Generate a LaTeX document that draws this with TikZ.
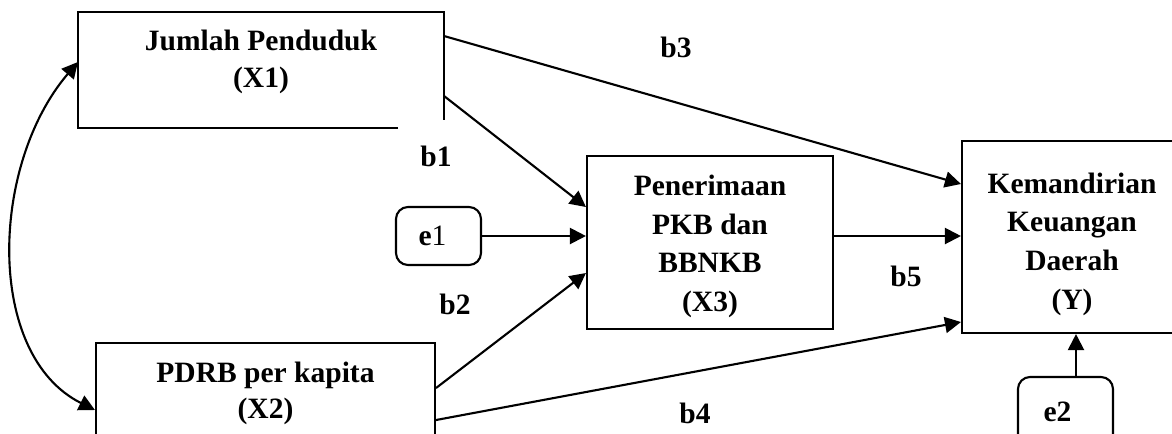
\documentclass[tikz,border=0pt]{standalone}
\usepackage{fontspec}
\setmainfont{Liberation Serif}
\usetikzlibrary{arrows.meta, positioning}
\tikzstyle{block} = [draw, rectangle, inner sep=0pt]
\tikzstyle{errbox} = [draw, rectangle, rounded corners=2.4mm, inner sep=0pt]
\tikzstyle{txt} = [align=center, inner sep=0pt]
\tikzstyle{tall} = [font=\fontsize{16.8}{22}\selectfont\bfseries]

\begin{document}
\begin{tikzpicture}[x=0.2mm,y=-0.2mm,line width=1.2pt,
    >={Triangle[length=3.2mm,width=3.2mm]},
    font=\fontsize{16.8}{20.7}\selectfont\bfseries]
    \useasboundingbox (0,0) rectangle (1172,433);
    % variables
    \node [minimum width=72.8mm, minimum height=22.8mm] (x1) at (261,70) {};
    \node [txt] (x1txt) at ([yshift=1.6mm]x1.center) {Jumlah Penduduk\\(X1)};
    \draw ([xshift=-9.2mm]x1.south east) -- (x1.south west) -- (x1.north west)
        -- (x1.north east) -- ([yshift=1.6mm]x1.south east);
    \node [block, minimum width=67.8mm, minimum height=22.8mm] (x2) at (265.5,400) {};
    \node [txt] (x2txt) at ([yshift=1.3mm]x2.center) {PDRB per kapita\\(X2)};
    \node [block, minimum width=49.2mm, minimum height=34.6mm] (x3) at (710,242.5) {};
    \node [txt, tall] (x3txt) at ([yshift=-0.8mm]x3.center) {Penerimaan\\PKB dan\\BBNKB\\(X3)};
    \node [block, minimum width=44mm, minimum height=38.4mm] (y) at (1072,237) {};
    \node [txt, tall] (ytxt) at ([yshift=-1.4mm]y.center) {Kemandirian\\Keuangan\\Daerah\\(Y)};
    \node [errbox, minimum width=17mm, minimum height=11.6mm] (e1) at (438.5,236) {};
    \node [txt] (e1txt) at ([xshift=-1.2mm]e1.center) {e\textmd{1}};
    \node [errbox, minimum width=19mm, minimum height=14mm] (e2) at (1065.5,412) {};
    \node [txt] (e2txt) at ([xshift=-1.6mm]e2.center) {e2};
    % path labels
    \node (b1) at (436,156) {b1};
    \node (b2) at (455,304) {b2};
    \node (b3) at (676,47) {b3};
    \node (b4) at (695,413) {b4};
    \node (b5) at (906,276) {b5};
    % paths
    \draw [->] ([yshift=-5.2mm]x1.east) -- ([yshift=7.1mm]x3.west);
    \draw [->] ([yshift=6.8mm]x1.east) -- ([yshift=10.6mm]y.west);
    \draw [->] (e1) -- (x3.west |- e1);
    \draw [->] ([yshift=2.4mm]x2.east) -- ([yshift=-6.1mm]x3.west);
    \draw [->] ([yshift=-4mm]x2.east) -- ([yshift=-17mm]y.west);
    \draw [->] ([yshift=1.3mm]x3.east) -- ([yshift=1.3mm]x3.east -| y.west);
    \draw [->] ([xshift=2.1mm]e2.north) -- ([xshift=2.1mm]e2.north |- y.south);
    \draw [<->] ([yshift=1.6mm]x1.west) .. controls (-10,165) and (-15,355) .. ([yshift=-2mm]x2.west);
\end{tikzpicture}
\end{document}
